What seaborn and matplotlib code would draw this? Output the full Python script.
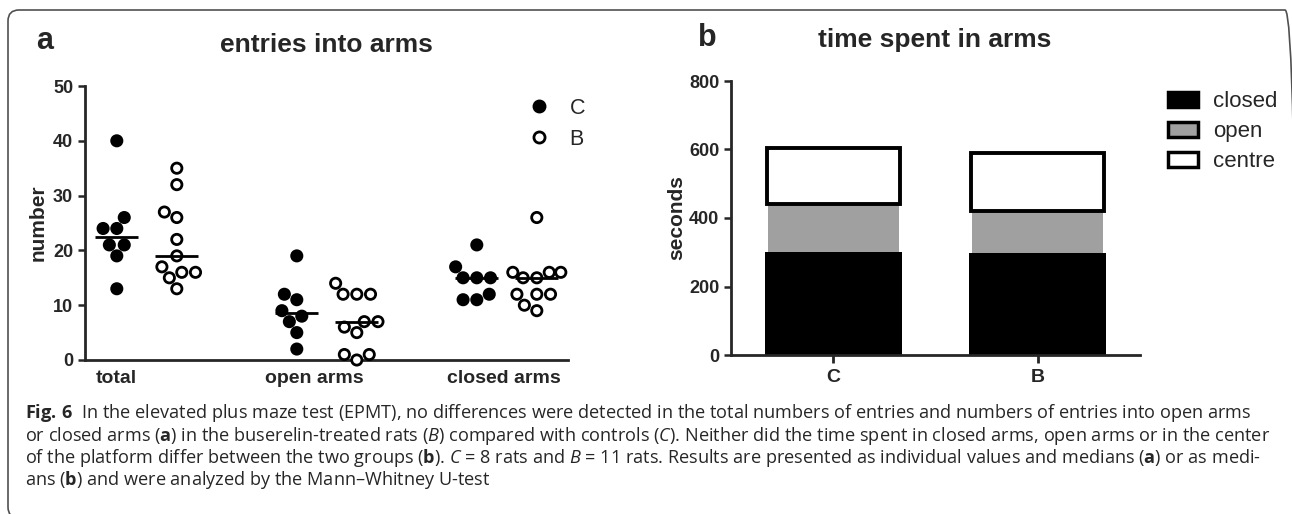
import matplotlib
matplotlib.use('Agg')
import matplotlib.pyplot as plt
from matplotlib.patches import FancyBboxPatch, Patch
from matplotlib.lines import Line2D
import seaborn as sns
import pandas as pd
import numpy as np

# panel a: entries into arms, controls (C) vs buserelin-treated (B)
measures = ['total', 'open arms', 'closed arms']
groups = ['C', 'B']
total_C = [40, 26, 24, 24, 21, 21, 19, 13]
total_B = [35, 32, 27, 26, 22, 19, 17, 16, 16, 15, 13]
open_C = [19, 12, 11, 9, 8, 7, 5, 2]
open_B = [14, 12, 12, 12, 7, 7, 6, 5, 1, 1, 0]
closed_C = [21, 17, 15, 15, 15, 12, 11, 11]
closed_B = [26, 16, 16, 16, 15, 15, 12, 12, 12, 10, 9]

# panel b: time spent in arms (medians, seconds)
closed_time = [302, 297]
open_time = [140, 123]
centre_time = [163, 169]
time_labels = ['closed', 'open', 'centre']

caption = [
    r'$\mathbf{Fig.\,6}$  In the elevated plus maze test (EPMT), no differences were detected in the total numbers of entries and numbers of entries into open arms',
    r'or closed arms ($\mathbf{a}$) in the buserelin-treated rats ($B$) compared with controls ($C$). Neither did the time spent in closed arms, open arms or in the center',
    r'of the platform differ between the two groups ($\mathbf{b}$). $C$ = 8 rats and $B$ = 11 rats. Results are presented as individual values and medians ($\mathbf{a}$) or as medi-',
    r'ans ($\mathbf{b}$) and were analyzed by the Mann–Whitney U-test',
]


def main():
    sns.set_style('ticks')
    plt.rcParams['font.family'] = ['Liberation Sans', 'DejaVu Sans']
    plt.rcParams['mathtext.fontset'] = 'custom'
    plt.rcParams['mathtext.rm'] = 'Open Sans'
    plt.rcParams['mathtext.it'] = 'Open Sans:italic'
    plt.rcParams['mathtext.bf'] = 'Open Sans:bold'

    W, H = 1292, 514
    fig = plt.figure(figsize=(W / 100, H / 100), dpi=100)

    # ---- panel a
    rows = []
    values = [(total_C, total_B), (open_C, open_B), (closed_C, closed_B)]
    for i, (m, pair) in enumerate(zip(measures, values)):
        for j, (g, vals) in enumerate(zip(groups, pair)):
            for v in vals:
                rows.append({'measure': m, 'group': g, 'pos': 3 * i + j, 'value': v})
    df = pd.DataFrame(rows)

    ax = fig.add_axes([85 / W, (H - 360) / H, 483 / W, 274 / H])
    sns.swarmplot(
        data=df, x='pos', y='value', hue='group', hue_order=groups,
        palette={'C': 'black', 'B': 'white'}, native_scale=True, orient='x',
        size=7.4, edgecolor='black', linewidth=2.0, ax=ax, legend=False,
    )
    for coll in ax.collections:
        coll.set_clip_on(False)

    for pos, sub in df.groupby('pos'):
        med = np.median(sub['value'])
        ax.hlines(med, pos - 0.36, pos + 0.36, color='black', lw=2, zorder=5)

    ax.set_xlim(-0.53, 7.52)
    ax.set_ylim(0, 50)
    ax.set_yticks([0, 10, 20, 30, 40, 50])
    ax.set_xticks([0, 3.3, 6.45])
    ax.set_xticklabels(measures, fontsize=14, fontweight='bold')
    ax.tick_params(axis='x', length=0, pad=7)
    ax.tick_params(axis='y', length=5, width=1.8, labelsize=13)
    for t in ax.get_yticklabels():
        t.set_fontweight('bold')
    ax.set_xlabel('')
    ax.set_ylabel('number', fontsize=15, fontweight='bold', labelpad=4)
    sns.despine(ax=ax)
    for s in ('left', 'bottom'):
        ax.spines[s].set_linewidth(2)

    handles = [
        Line2D([], [], ls='none', marker='o', markersize=8, markerfacecolor=c,
               markeredgecolor='black', markeredgewidth=2)
        for c in ('black', 'white')
    ]
    ax.legend(handles, groups, loc='upper left', bbox_to_anchor=(0.917, 0.957),
              frameon=False, fontsize=15.5, handlelength=1.0, handletextpad=0.94,
              labelspacing=0.46, borderpad=0, borderaxespad=0)

    fig.text(326 / W, 1 - 45 / H, 'entries into arms', ha='center', va='center',
             fontsize=19, fontweight='bold')
    fig.text(45 / W, 1 - 41 / H, 'a', ha='center', va='center', fontsize=22, fontweight='bold')

    # ---- panel b
    bx = fig.add_axes([731 / W, (H - 355) / H, 409 / W, 274 / H])
    cum_open = [c + o for c, o in zip(closed_time, open_time)]
    sns.barplot(x=groups, y=closed_time, color='black', saturation=1, width=0.67,
                errorbar=None, edgecolor='black', linewidth=0, ax=bx)
    sns.barplot(x=groups, y=open_time, color='#a0a0a0', saturation=1, width=0.64,
                errorbar=None, edgecolor='#a0a0a0', linewidth=0, bottom=closed_time, ax=bx)
    sns.barplot(x=groups, y=centre_time, color='white', saturation=1, width=0.65,
                errorbar=None, edgecolor='black', linewidth=2.8, bottom=cum_open, ax=bx)
    bx.set_xlim(-0.5, 1.5)
    bx.set_ylim(0, 800)
    bx.set_yticks([0, 200, 400, 600, 800])
    bx.tick_params(axis='y', length=5, width=1.8, labelsize=13)
    bx.tick_params(axis='x', length=6, width=2, labelsize=14, pad=4)
    for t in bx.get_yticklabels() + bx.get_xticklabels():
        t.set_fontweight('bold')
    bx.set_ylabel('seconds', fontsize=15, fontweight='bold', labelpad=2)
    sns.despine(ax=bx)
    for s in ('left', 'bottom'):
        bx.spines[s].set_linewidth(2)

    leg_handles = [
        Patch(facecolor=c, edgecolor='black', linewidth=2.5)
        for c in ('black', '#a0a0a0', 'white')
    ]
    fig.legend(leg_handles, time_labels, loc='upper left',
               bbox_to_anchor=(1168 / W, 1 - 91 / H), frameon=False, fontsize=16,
               handlelength=1.35, handleheight=0.68, handletextpad=0.68,
               labelspacing=0.41, borderpad=0, borderaxespad=0)

    fig.text(935 / W, 1 - 40 / H, 'time spent in arms', ha='center', va='center',
             fontsize=19, fontweight='bold')
    fig.text(707 / W, 1 - 38 / H, 'b', ha='center', va='center', fontsize=22, fontweight='bold')

    # ---- caption
    line_y = [413, 436, 458, 480]
    texts = [
        fig.text(25 / W, 1 - y / H, line, ha='left', va='center', fontsize=13.5,
                 family=['Open Sans', 'DejaVu Sans'])
        for line, y in zip(caption, line_y)
    ]
    # fit the first line to its width in the original
    fig.canvas.draw()
    width = texts[0].get_window_extent().width
    fs = 13.5 * 1231 / width
    for t in texts:
        t.set_fontsize(fs)

    # rounded frame, right and bottom edges fall just outside the image
    fig.add_artist(FancyBboxPatch((8, -4), 1288, 508, boxstyle='round,pad=0,rounding_size=11',
                                  transform=None, fill=False, ec='#505050', lw=1.2))

    plt.savefig('out.png', dpi=100)


if __name__ == '__main__':
    main()
